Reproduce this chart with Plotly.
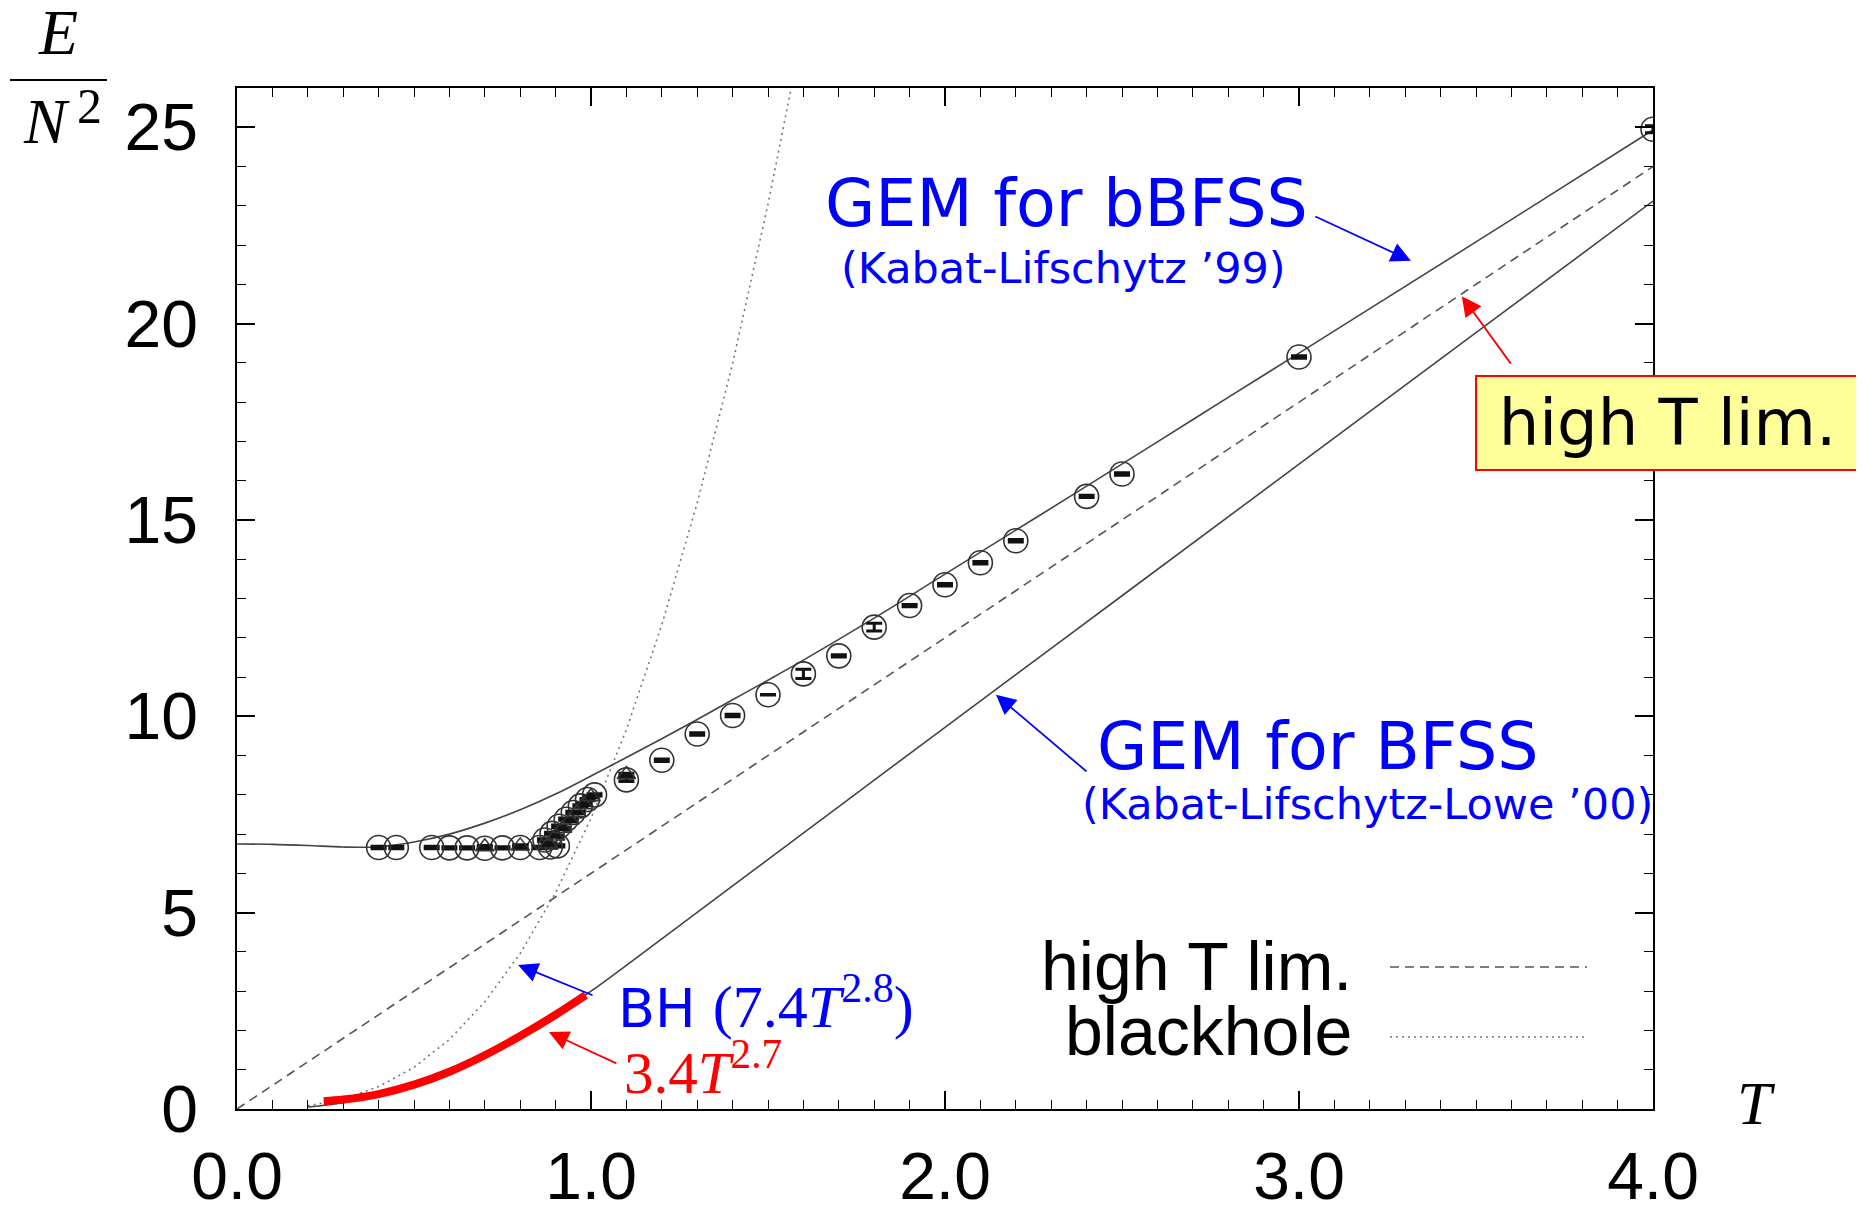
import plotly.graph_objects as go

# ---------------- data ----------------
bbfss_T = [0.0, 0.1, 0.2, 0.3, 0.4, 0.5, 0.6, 0.7, 0.8, 0.9, 1.0, 1.1, 1.2, 1.3, 1.4,
           1.5, 1.6, 1.8, 2.0, 2.2, 2.4, 2.6, 2.8, 3.0, 3.2, 3.5, 4.0]
bbfss_E = [6.75, 6.74, 6.71, 6.67, 6.68, 6.80, 7.00, 7.28, 7.62, 8.02, 8.48, 8.95, 9.43,
           9.92, 10.42, 10.92, 11.43, 12.50, 13.62, 14.74, 15.86, 16.99, 18.12, 19.25,
           20.38, 22.08, 24.93]

bfss_T = [0.20, 0.30, 0.40, 0.50, 0.60, 0.70, 0.80, 0.90, 1.00, 1.10, 1.20, 1.40, 1.70,
          2.00, 2.50, 3.00, 3.50, 4.00]
bfss_E = [0.05, 0.16, 0.34, 0.60, 0.94, 1.36, 1.85, 2.40, 3.00, 3.66, 4.33, 5.68, 7.70,
          9.72, 13.07, 16.42, 19.77, 23.12]

highT_T = [0.0, 4.0]
highT_E = [0.0, 24.0]

bh_T = [0.20, 0.30, 0.40, 0.50, 0.60, 0.70, 0.80, 0.90, 1.00, 1.10, 1.20, 1.30, 1.40, 1.50, 1.57]
bh_E = [0.08, 0.25, 0.57, 1.06, 1.77, 2.73, 3.96, 5.51, 7.40, 9.66, 12.33, 15.43, 18.98, 23.04, 26.2]

fit_T = [0.245, 0.30, 0.40, 0.50, 0.60, 0.70, 0.80, 0.90, 0.985]
fit_E = [0.20, 0.24, 0.38, 0.62, 0.95, 1.37, 1.86, 2.40, 2.90]

circ_T = [0.40, 0.45, 0.55, 0.60, 0.65, 0.70, 0.75, 0.80, 0.855, 0.885, 0.905,
          0.87, 0.89, 0.91, 0.93, 0.95, 0.97, 0.99, 1.01,
          1.10, 1.20, 1.30, 1.40, 1.50, 1.60, 1.70, 1.80, 1.90, 2.00, 2.10, 2.20,
          2.40, 2.50, 3.00, 4.00]
circ_E = [6.66, 6.66, 6.66, 6.65, 6.65, 6.64, 6.65, 6.66, 6.66, 6.67, 6.70,
          6.85, 7.02, 7.20, 7.38, 7.55, 7.72, 7.88, 8.00,
          8.38, 8.88, 9.55, 10.02, 10.55, 11.08, 11.54, 12.27, 12.82, 13.35, 13.91, 14.47,
          15.60, 16.17, 19.15, 24.95]
circ_err = [0.03, 0.03, 0.03, 0.03, 0.03, 0.03, 0.03, 0.03, 0.03, 0.03, 0.03,
            0.03, 0.03, 0.03, 0.03, 0.03, 0.03, 0.03, 0.03,
            0.04, 0.03, 0.03, 0.03, 0.005, 0.12, 0.03, 0.10, 0.03, 0.03, 0.03, 0.03,
            0.03, 0.03, 0.03, 0.09]

tri_T = [0.70, 0.80, 0.88, 0.90, 0.92, 0.94, 0.96, 0.98, 1.00, 1.10]
tri_E = [6.68, 6.70, 6.75, 6.95, 7.15, 7.35, 7.55, 7.75, 7.95, 8.52]
tri_err = [0.03, 0.03, 0.03, 0.03, 0.03, 0.03, 0.03, 0.03, 0.03, 0.03]

x_ticks = [0.0, 1.0, 2.0, 3.0, 4.0]
y_ticks = [0, 5, 10, 15, 20, 25]

# ---------------- layout geometry ----------------
# screenshot is 1864x1207; the page body has an 8px margin, so the figure is
# made 8px smaller and the plot area is placed at screenshot pixels L..R, T..B
SW, SH = 1864, 1207
OFF = 8
L, R, T, B = 237, 1653, 88, 1109
W, H = SW - OFF, SH - OFF


def P(px, py):
    return (px - L) / (R - L), (B - py) / (B - T)


SANS = "Liberation Sans, Arial, sans-serif"
TAHOMA = "DejaVu Sans, Verdana, sans-serif"
SERIF = "Liberation Serif, Times New Roman, serif"
BLUE = "#0000FF"
RED = "#FF0000"
GREY = "#444444"

fig = go.Figure()

fig.add_trace(go.Scatter(x=highT_T, y=highT_E, mode="lines",
                         line=dict(color="#555555", width=1.6, dash="9px,6px")))
fig.add_trace(go.Scatter(x=bh_T, y=bh_E, mode="lines",
                         line=dict(color="#777777", width=1.6, dash="2px,4px")))
fig.add_trace(go.Scatter(x=bbfss_T, y=bbfss_E, mode="lines", line_shape="spline",
                         line=dict(color=GREY, width=1.6)))
fig.add_trace(go.Scatter(x=bfss_T, y=bfss_E, mode="lines", line_shape="spline",
                         line=dict(color=GREY, width=1.6)))
fig.add_trace(go.Scatter(x=fit_T, y=fit_E, mode="lines", line_shape="spline",
                         line=dict(color=RED, width=8)))
fig.add_trace(go.Scatter(x=circ_T, y=circ_E, mode="markers",
                         marker=dict(symbol="circle-open", size=24, color="#333333",
                                     line=dict(width=1.6)),
                         error_y=dict(type="data", array=circ_err, visible=True,
                                      color="#111111", thickness=3, width=8)))
fig.add_trace(go.Scatter(x=tri_T, y=tri_E, mode="markers",
                         marker=dict(symbol="triangle-up-open", size=16, color="#333333",
                                     line=dict(width=1.5)),
                         error_y=dict(type="data", array=tri_err, visible=True,
                                      color="#111111", thickness=3, width=8)))

axis_common = dict(showline=True, linecolor="black", linewidth=1.8, mirror="ticks",
                   ticks="inside", ticklen=18, tickwidth=1.5, tickcolor="black",
                   showgrid=False, zeroline=False, automargin=False,
                   tickfont=dict(family=SANS, size=66, color="black"))

fig.update_xaxes(range=[0, 4], tickvals=x_ticks, ticktext=[f"{v:.1f}" for v in x_ticks],
                 minor=dict(dtick=0.1, ticklen=9, ticks="inside", tickwidth=1.3,
                            tickcolor="black"),
                 ticklabelstandoff=9, **axis_common)
fig.update_yaxes(range=[0, 26], tickvals=y_ticks,
                 minor=dict(dtick=1, ticklen=9, ticks="inside", tickwidth=1.3,
                            tickcolor="black"),
                 ticklabelstandoff=24, **axis_common)

ann = []


def text(px, py, s, size, color, family, xanchor="center", yanchor="middle", **kw):
    x, y = P(px, py)
    d = dict(x=x, y=y, xref="paper", yref="paper", text=s, showarrow=False,
             xanchor=xanchor, yanchor=yanchor,
             font=dict(size=size, color=color, family=family))
    d.update(kw)
    ann.append(d)


def arrow(tx, ty, ax, ay, color):
    ann.append(dict(x=tx, y=ty, xref="x", yref="y", text="", showarrow=True,
                    ax=ax, ay=ay, arrowhead=2, arrowsize=2.2, arrowwidth=1.8,
                    arrowcolor=color, standoff=0, startstandoff=0))


# blue / red labels
text(1066, 203, "GEM for bBFSS", 65, BLUE, TAHOMA)
text(1063, 268, "(Kabat-Lifschytz ’99)", 43, BLUE, TAHOMA)
text(1318, 746, "GEM for BFSS", 65, BLUE, TAHOMA)
text(1367, 804, "(Kabat-Lifschytz-Lowe ’00)", 43, BLUE, TAHOMA)
text(616, 1002, "BH <span style='font-family:Liberation Serif;font-size:60px'>(7.4<i>T</i><sup>2.8</sup>)</span>",
     54, BLUE, TAHOMA, xanchor="left")
text(622, 1068, "3.4<i>T</i><sup>2.7</sup>", 59, RED, SERIF, xanchor="left")

# highlighted box
text(1667, 423, "high T lim.", 64, "black", TAHOMA, bgcolor="#FFFF99",
     bordercolor=RED, borderwidth=2, width=381, height=92, borderpad=0)

# arrows (tip in data coordinates, tail offset in pixels)
arrow(3.316, 21.6, -97, -45, BLUE)
arrow(2.144, 10.55, 92, 78, BLUE)
arrow(0.794, 3.67, 76, 31, BLUE)
arrow(0.881, 1.96, 69, 32, RED)
arrow(3.46, 20.7, 50, 69, RED)

# legend (drawn manually, right-aligned text + line samples)
text(1354, 966, "high T lim.", 68, "black", SANS, xanchor="right")
text(1354, 1031, "blackhole", 68, "black", SANS, xanchor="right")

# axis labels
text(58, 32, "<i>E</i>", 64, "black", SERIF)
text(46, 121, "<i>N</i>", 64, "black", SERIF)
text(89, 106, "2", 50, "black", SERIF)
text(1756, 1103, "<i>T</i>", 62, "black", SERIF)

shapes = []
x0, y0 = P(1390, 967)
x1, _ = P(1587, 967)
shapes.append(dict(type="line", xref="paper", yref="paper", x0=x0, x1=x1, y0=y0, y1=y0,
                   line=dict(color="#555555", width=1.6, dash="9px,6px")))
x0, y0 = P(1390, 1037)
shapes.append(dict(type="line", xref="paper", yref="paper", x0=x0, x1=x1, y0=y0, y1=y0,
                   line=dict(color="#777777", width=1.6, dash="2px,4px")))
fx0, fy = P(10, 80)
fx1, _ = P(107, 80)
shapes.append(dict(type="line", xref="paper", yref="paper", x0=fx0, x1=fx1, y0=fy, y1=fy,
                   line=dict(color="black", width=2)))

fig.update_layout(width=W, height=H, autosize=False,
                  margin=dict(l=L - OFF, r=SW - R, t=T - OFF, b=SH - B),
                  paper_bgcolor="white", plot_bgcolor="white",
                  showlegend=False, annotations=ann, shapes=shapes)

fig.write_html("out.html")
